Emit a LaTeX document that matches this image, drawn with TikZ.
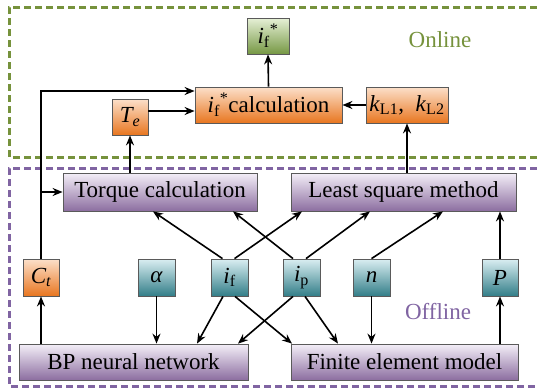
\documentclass[tikz,border=0pt]{standalone}
\usepackage{fontspec}
\setmainfont{Liberation Serif}
\usetikzlibrary{arrows.meta}
\definecolor{orT}{RGB}{252,224,202}
\definecolor{orM}{RGB}{249,200,160}
\definecolor{orB}{RGB}{232,118,32}
\definecolor{grT}{RGB}{230,240,214}
\definecolor{grM}{RGB}{200,218,172}
\definecolor{grB}{RGB}{118,152,68}
\definecolor{tlT}{RGB}{218,238,242}
\definecolor{tlM}{RGB}{178,215,222}
\definecolor{tlB}{RGB}{50,126,136}
\definecolor{puT}{RGB}{244,239,248}
\definecolor{puM}{RGB}{222,210,230}
\definecolor{puB}{RGB}{140,110,160}
\definecolor{onl}{RGB}{118,146,60}
\definecolor{offl}{RGB}{128,100,162}
\definecolor{bord}{RGB}{90,90,90}
\tikzset{
  box/.style={draw=bord, line width=0.8pt, inner sep=0pt, anchor=center,
    font=\fontsize{23}{25}\selectfont},
  orbox/.style={box, top color=orT, middle color=orM, bottom color=orB},
  grbox/.style={box, top color=grT, middle color=grM, bottom color=grB},
  tlbox/.style={box, top color=tlT, middle color=tlM, bottom color=tlB},
  pubox/.style={box, top color=puT, middle color=puM, bottom color=puB},
  arr/.style={line width=1.6pt, -{Stealth[length=10pt,width=8pt]}},
}
\newcommand{\iv}{\textit{i}}
\begin{document}
\begin{tikzpicture}[x=1pt,y=-1pt]
\useasboundingbox (0,0) rectangle (537,389);
% regions
\draw[onl, line width=3pt, dash pattern=on 7pt off 4pt] (537,7) -- (9,7) -- (9,157) -- (537,157);
\draw[offl, line width=3pt, dash pattern=on 7pt off 4pt] (537,168) -- (9,168) -- (9,386) -- (537,386);
\node[onl, font=\fontsize{23}{25}\selectfont] (onl) at (440,40) {Online};
\node[offl, font=\fontsize{23}{25}\selectfont] (offl) at (438,312) {Offline};
% online nodes
\node[grbox, minimum width=42pt, minimum height=36pt] (ifs) at (268,36) {\iv\textsubscript{f}\textsuperscript{*}};
\node[orbox, minimum width=147pt, minimum height=36pt] (calc) at (268.5,105) {\iv\textsubscript{f}\textsuperscript{*}calculation};
\node[orbox, minimum width=36pt, minimum height=36pt] (te) at (130,117) {\textit{T\textsubscript{e}}};
\node[orbox, minimum width=82pt, minimum height=36pt] (kl) at (407,105) {\textit{k}\textsubscript{L1},\ \ \textit{k}\textsubscript{L2}};
% offline nodes
\node[pubox, minimum width=194pt, minimum height=38pt] (torque) at (160,192) {Torque calculation};
\node[pubox, minimum width=225pt, minimum height=38pt] (lsm) at (403.5,192) {Least square method};
\node[orbox, minimum width=36pt, minimum height=37pt] (ct) at (41,277.5) {\textit{C\textsubscript{t}}};
\node[tlbox, minimum width=37pt, minimum height=37pt] (al) at (156.5,277.5) {\textit{α}};
\node[tlbox, minimum width=37pt, minimum height=37pt] (if) at (229.5,277.5) {\iv\textsubscript{f}};
\node[tlbox, minimum width=37pt, minimum height=37pt] (ip) at (301.5,277.5) {\iv\textsubscript{p}};
\node[tlbox, minimum width=37pt, minimum height=37pt] (n) at (371.5,277.5) {\textit{n}};
\node[tlbox, minimum width=36pt, minimum height=37pt] (p) at (500,277.5) {\textit{P}};
\node[pubox, minimum width=229pt, minimum height=36pt] (bp) at (133.5,362) {BP neural network};
\node[pubox, minimum width=227pt, minimum height=36pt] (fem) at (404.5,362) {Finite element model};
% online connectors
\draw[arr] (calc.north) -- (ifs.south);
\draw[arr] ([yshift=6pt]te.east) -- ([yshift=-6pt]calc.west);
\draw[arr] (kl.west) -- (calc.east);
\draw[arr] (ct.north) |- ([yshift=14pt]calc.west);
\coordinate (br) at (ct.north |- torque.west);
\draw[arr] (br) -- (torque.west);
\draw[arr] (te.south |- torque.north) -- (te.south);
\draw[arr] (lsm.north -| kl.south) -- (kl.south);
% offline connectors up
\draw[arr] ([xshift=-7pt]if.north) -- ([xshift=-7pt]torque.south);
\draw[arr] ([xshift=5pt]if.north) -- ([xshift=-101.5pt]lsm.south);
\draw[arr] ([xshift=-8.5pt]ip.north) -- ([xshift=73pt]torque.south);
\draw[arr] ([xshift=4.5pt]ip.north) -- ([xshift=-33.5pt]lsm.south);
\draw[arr] (n.north) -- ([xshift=39.5pt]lsm.south);
\draw[arr] (p.north) -- (p.north |- lsm.south);
% offline connectors down
\draw[arr] (ct.south |- bp.north) -- (ct.south);
\draw[arr] (al.south) -- (al.south |- bp.north);
\draw[arr] ([xshift=-6.5pt]if.south) -- ([xshift=63.5pt]bp.north);
\draw[arr] ([xshift=5.5pt]if.south) -- ([xshift=-112.5pt]fem.north);
\draw[arr] ([xshift=-8.5pt]ip.south) -- ([xshift=104.5pt]bp.north);
\draw[arr] ([xshift=3.5pt]ip.south) -- ([xshift=-66.5pt]fem.north);
\draw[arr] (n.south) -- (n.south |- fem.north);
\draw[arr] (p.south |- fem.north) -- (p.south);
\end{tikzpicture}
\end{document}
